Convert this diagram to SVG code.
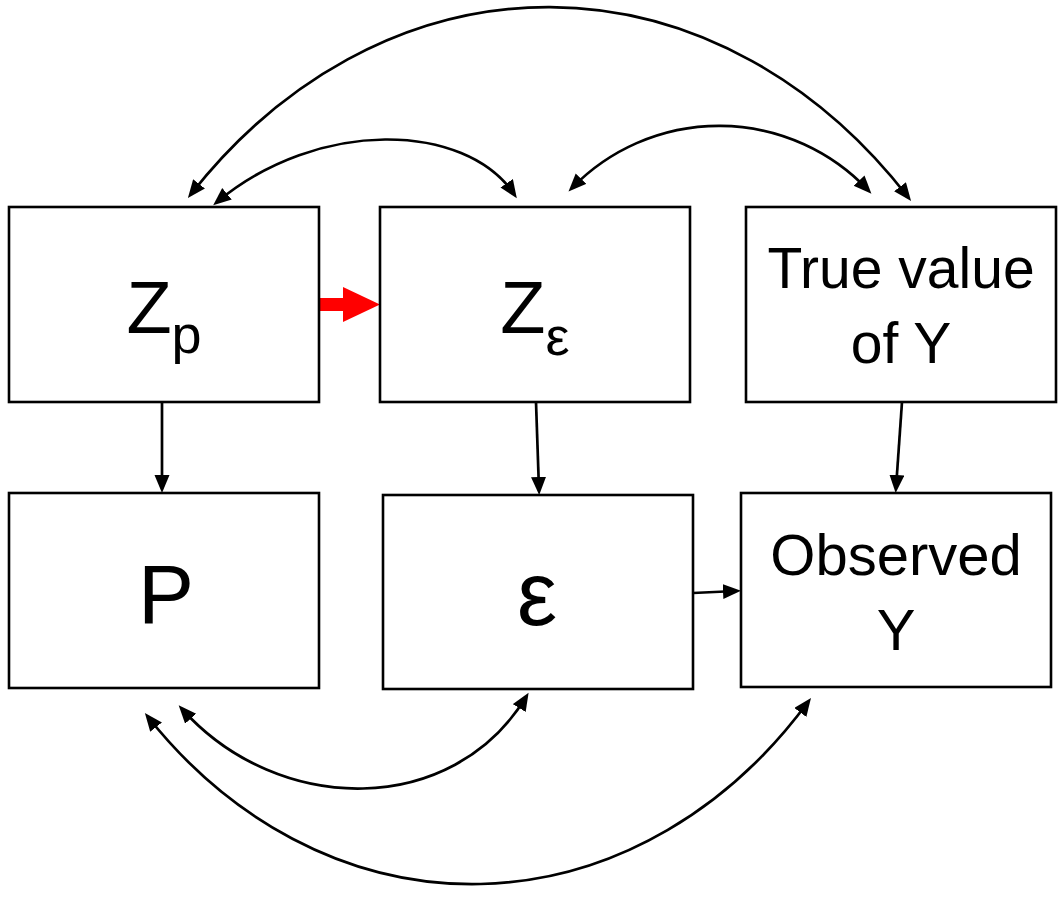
<svg xmlns="http://www.w3.org/2000/svg" width="1064" height="900" viewBox="0 0 1064 900">
<style>
.box{fill:#fff;stroke:#000;stroke-width:2.6}
.lbl{font-family:"Liberation Sans",Arial,sans-serif;fill:#000;text-anchor:middle}
.con{fill:none;stroke:#000;stroke-width:2.7}
.two{marker-start:url(#ah);marker-end:url(#ah)}
.one{marker-end:url(#ah)}
</style>
<defs>
<marker id="ah" markerUnits="userSpaceOnUse" markerWidth="19" markerHeight="16" refX="13" refY="7.5" orient="auto-start-reverse" viewBox="0 0 19 16">
<path d="M0,0 L18,7.5 L0,15 z" fill="#000"/>
</marker>
</defs>
<rect width="1064" height="900" fill="#fff"/>
<g id="connectors">
<path class="con two" d="M191,194 A500 622 0 0 1 908,197"/>
<path class="con two" d="M217,202 C318,118 465,122 514,194"/>
<path class="con two" d="M572,188 A205 205 0 0 1 868,190"/>
<path class="con two" d="M182,709 C279,817 453,817 526,697"/>
<path class="con two" d="M148,717 A450 545 0 0 0 808,702"/>
<path class="con one" d="M162,402 L162,488"/>
<path class="con one" d="M536,402 L539,490"/>
<path class="con one" d="M902,402 L896,488"/>
<path class="con one" d="M693,593 L736,591"/>
<g id="red-arrow" fill="#f00">
<rect x="319" y="298" width="26" height="13"/>
<polygon points="343,287 380,304.5 343,322"/>
</g>
</g>
<g id="node-zp">
<rect class="box" x="9" y="207" width="310" height="195"/>
<text class="lbl" x="164" y="333" font-size="74">Z<tspan font-size="54" dy="20">p</tspan></text>
</g>
<g id="node-ze">
<rect class="box" x="380" y="207" width="310" height="195"/>
<text class="lbl" x="535" y="333" font-size="74">Z<tspan font-size="54" dy="22">ε</tspan></text>
</g>
<g id="node-true">
<rect class="box" x="746" y="207" width="310" height="195"/>
<text class="lbl" x="901" y="288" font-size="57">True value</text>
<text class="lbl" x="901" y="363" font-size="57">of Y</text>
</g>
<g id="node-p">
<rect class="box" x="9" y="493" width="310" height="195"/>
<text class="lbl" x="166" y="623" font-size="84">P</text>
</g>
<g id="node-e">
<rect class="box" x="383" y="495" width="310" height="194"/>
<text class="lbl" x="537" y="625" font-size="90">ε</text>
</g>
<g id="node-obs">
<rect class="box" x="741" y="493" width="310" height="194"/>
<text class="lbl" x="896" y="575" font-size="58">Observed</text>
<text class="lbl" x="896" y="650" font-size="58">Y</text>
</g>
</svg>
